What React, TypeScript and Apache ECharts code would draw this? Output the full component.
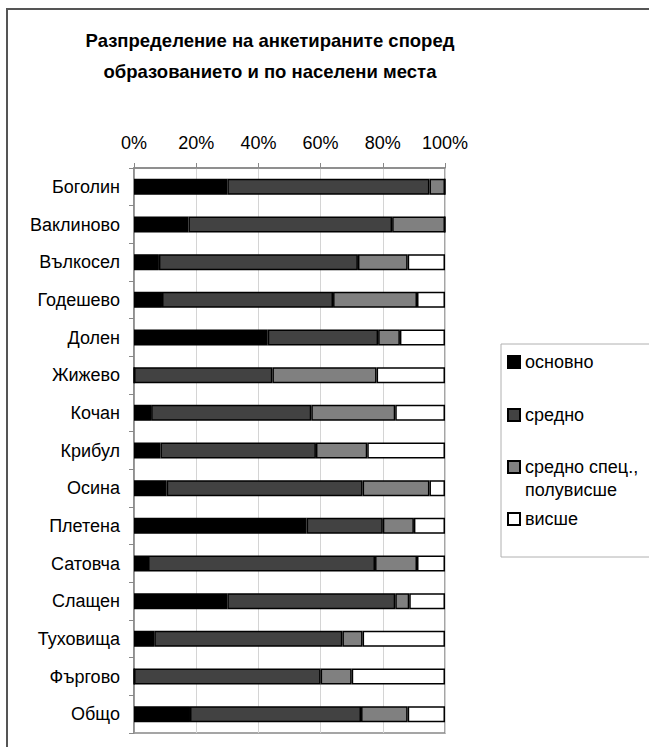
import React, { useEffect, useRef } from "react";
import * as echarts from "echarts";

const titleLines = ["Разпределение на анкетираните според", "образованието и по населени места"];
const categories = [
  "Боголин", "Ваклиново", "Вълкосел", "Годешево", "Долен", "Жижево", "Кочан", "Крибул",
  "Осина", "Плетена", "Сатовча", "Слащен", "Туховища", "Фъргово", "Общо",
];
const seriesNames = ["основно", "средно", "средно спец., полувисше", "висше"];
const osnovno = [30, 17.5, 8, 9, 43, 0, 5.5, 8.5, 10.5, 55.5, 4.5, 30, 6.5, 0, 18];
const sredno = [65, 65.5, 64, 55, 35.5, 44.5, 51.5, 50, 63, 24.5, 73, 54, 60.5, 60, 55];
const srednoSpec = [5, 17, 16, 27, 7, 33.5, 27, 16.5, 21.5, 10, 13.5, 4.5, 6.5, 10, 15];
const vishe = [0, 0, 12, 9, 14.5, 22, 16, 25, 5, 10, 9, 11.5, 26.5, 30, 12];
const xTicks = { min: 0, max: 100, interval: 20 };

const colors = ["#000000", "#424242", "#808080", "#ffffff"];
const FONT = "Liberation Sans, Arial, sans-serif";

export default function App() {
  const ref = useRef<HTMLDivElement>(null);
  useEffect(() => {
    if (!ref.current) return;
    const chart = echarts.init(ref.current, undefined, { renderer: "svg" });
    const values = [osnovno, sredno, srednoSpec, vishe];
    const legendTops = [352, 405, 457, 509];
    const legends = seriesNames.map((n, i) => ({
      data: [n],
      left: 507,
      top: legendTops[i],
      padding: 0,
      icon: "rect",
      itemWidth: 12,
      itemHeight: 12,
      selectedMode: false,
      formatter: (name: string) => (name === "средно спец., полувисше" ? "средно спец.," : name),
      textStyle: { fontFamily: FONT, fontSize: 18, color: "#000", lineHeight: 20 },
    }));
    chart.setOption({
      animation: false,
      backgroundColor: "#ffffff",
      title: {
        text: titleLines.join("\n"),
        left: 270,
        top: 25,
        padding: 0,
        textAlign: "center",
        textStyle: { fontFamily: FONT, fontSize: 18.5, fontWeight: "bold", color: "#000", lineHeight: 31 },
      },
      legend: legends,
      grid: {
        left: 134,
        right: 204,
        top: 168,
        bottom: 14,
        show: true,
        borderColor: "#888888",
        borderWidth: 1.5,
        containLabel: false,
      },
      xAxis: {
        type: "value",
        position: "top",
        min: xTicks.min,
        max: xTicks.max,
        interval: xTicks.interval,
        axisLabel: {
          formatter: "{value}%",
          fontFamily: FONT,
          fontSize: 18,
          color: "#000",
          margin: 16,
        },
        axisLine: { show: true, lineStyle: { color: "#888888", width: 1.5 } },
        axisTick: { show: true, length: 5, lineStyle: { color: "#888888" } },
        splitLine: { show: true, lineStyle: { color: "#d4d4d4", width: 1 } },
      },
      yAxis: {
        type: "category",
        data: categories,
        inverse: true,
        axisLabel: { fontFamily: FONT, fontSize: 18, color: "#000", margin: 14 },
        axisLine: { show: true, lineStyle: { color: "#888888", width: 1.5 } },
        axisTick: { show: true, length: 5, alignWithLabel: false, lineStyle: { color: "#888888" } },
      },
      series: seriesNames.map((n, i) => ({
        name: n,
        type: "bar",
        stack: "total",
        barWidth: 16,
        data: values[i],
        itemStyle: { color: colors[i], borderColor: "#000", borderWidth: 1.5 },
      })),
      graphic: [
        {
          type: "rect",
          shape: { x: 7, y: 9, width: 700, height: 800 },
          style: { fill: "none", stroke: "#555555", lineWidth: 2 },
          silent: true,
          z: -10,
        },
        {
          type: "rect",
          shape: { x: 501, y: 344, width: 200, height: 213 },
          style: { fill: "none", stroke: "#b0b0b0", lineWidth: 1 },
          silent: true,
        },
        {
          type: "text",
          x: 525,
          y: 490,
          style: {
            text: "полувисше",
            fontFamily: FONT,
            fontSize: 18,
            fill: "#000",
            verticalAlign: "middle",
          },
          silent: true,
        },
      ],
    });
    return () => chart.dispose();
  }, []);
  return (
    <div
      ref={ref}
      style={{ position: "fixed", left: 0, top: 0, width: 649, height: 747, background: "#fff" }}
    />
  );
}
